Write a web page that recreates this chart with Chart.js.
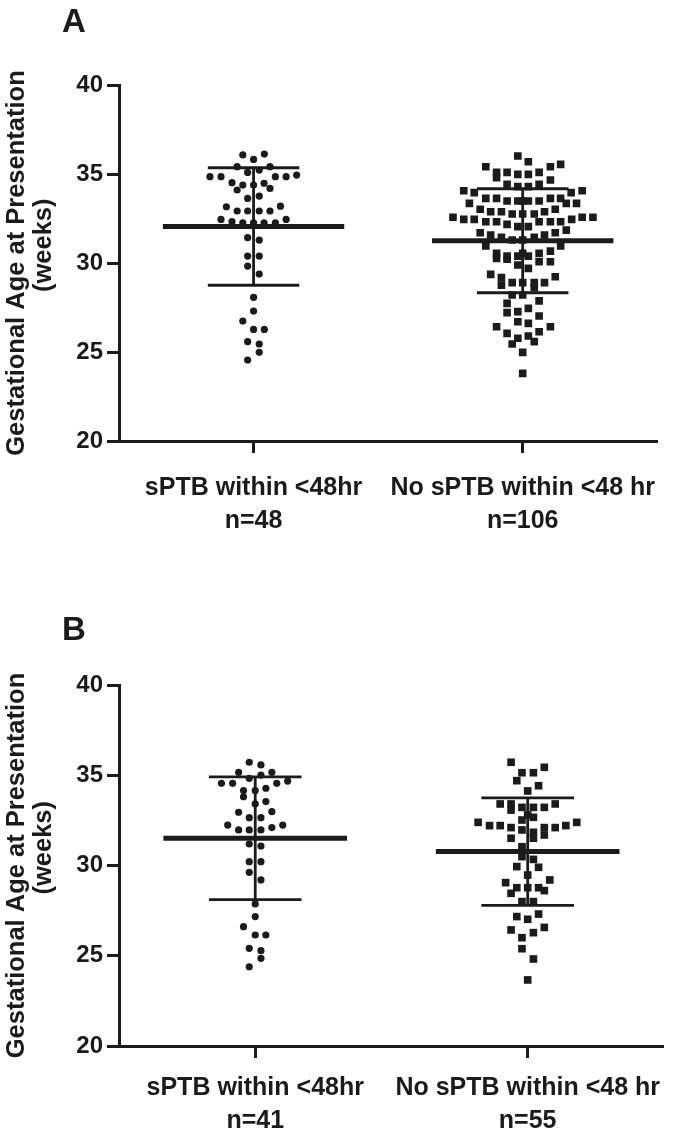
<!DOCTYPE html>
<html><head><meta charset="utf-8">
<script src="https://cdn.jsdelivr.net/npm/chart.js@4.4.1/dist/chart.umd.min.js"></script>
<style>
html,body{margin:0;padding:0;background:#fff;}
#wrap{position:relative;width:676px;height:1139px;overflow:hidden;}
.panel{position:absolute;left:0;width:676px;}
#pa{top:0;height:580px;}
#pb{top:600px;height:539px;}
</style></head><body>
<div id="wrap">
<div class="panel" id="pa"><canvas id="ca"></canvas></div>
<div class="panel" id="pb"><canvas id="cb"></canvas></div>
</div>
<script>
// ---------- data ----------
const categoriesA = [['sPTB within <48hr', 'n=48'], ['No sPTB within <48 hr', 'n=106']];
const categoriesB = [['sPTB within <48hr', 'n=41'], ['No sPTB within <48 hr', 'n=55']];
const yTicks = [20, 25, 30, 35, 40];
const yTitle = ['Gestational Age at Presentation', '\u00a0\u00a0\u00a0\u00a0\u00a0(weeks)'];

// Panel A, group 1 (sPTB within <48hr) : values (weeks) and horizontal scatter offsets (category units)
const valuesA1 = [36.07,35.82,36.12,35.41,35.41,35.09,35.22,34.85,34.85,34.85,34.85,34.94,34.51,34.38,34.38,34.48,34.19,34.10,
  33.63,33.76,33.16,33.19,32.92,32.92,32.92,32.92,32.45,32.45,32.32,32.26,32.26,32.26,32.26,31.42,31.29,30.39,30.39,29.83,29.38,
  28.07,27.30,26.74,26.27,26.27,25.58,25.45,24.98,24.55];
const jitterA1 = [-0.040,0,0.040,-0.061,0.061,-0.022,0.021,-0.162,-0.121,0.081,0.121,0.160,-0.080,-0.040,0,0.039,0.061,-0.061,
  -0.022,0.021,-0.101,0.100,-0.061,-0.022,0.021,0.061,-0.121,0.121,-0.080,-0.040,0,0.039,0.081,-0.022,0.021,-0.022,0.021,-0.022,0.021,
  0,0,-0.040,0,0.040,-0.022,0.021,0.021,-0.022];

// Panel A, group 2 (No sPTB within <48 hr)
const valuesA2 = [36.01,35.69,35.54,35.41,35.41,35.09,35.09,34.98,34.98,35.09,34.79,34.66,34.42,34.29,34.29,34.42,
  34.06,33.95,33.95,34.06,33.63,33.63,33.48,33.48,33.48,33.48,33.48,33.63,33.63,33.35,33.35,33.35,
  33.02,32.88,32.88,32.75,32.75,32.75,32.88,33.02,32.57,32.45,32.45,32.32,32.32,32.17,32.04,32.04,32.32,32.32,32.32,32.45,32.57,32.57,
  31.85,31.70,31.57,31.44,31.29,31.29,31.44,31.57,31.70,30.96,30.96,30.54,30.26,30.39,30.21,30.39,30.39,30.54,30.07,30.67,30.07,
  29.89,29.70,29.36,29.23,29.18,28.76,28.90,28.90,28.90,28.61,28.90,28.20,28.20,27.87,27.73,27.45,27.21,27.27,27.02,
  26.70,26.61,26.42,26.42,26.14,26.05,25.90,25.77,25.58,25.45,24.98,23.80,30.54];
const jitterA2 = [-0.018,0.021,0.141,0.103,-0.137,-0.097,-0.058,-0.018,0.021,0.061,-0.097,0.103,-0.058,-0.018,0.021,0.061,
  -0.219,-0.180,0.180,0.221,-0.137,-0.097,-0.058,-0.018,0,0.021,0.061,0.103,0.141,-0.198,0.162,0.200,
  -0.158,-0.119,-0.079,-0.039,0,0.043,0.081,0.121,-0.259,-0.219,-0.180,-0.137,-0.097,-0.058,-0.018,0.021,0.061,0.103,0.141,0.182,0.221,0.261,
  0.162,-0.158,-0.119,-0.079,-0.039,0,0.043,0.081,0.121,-0.137,0.141,-0.097,-0.097,-0.058,-0.058,-0.018,0.021,0.061,0.061,0.103,0.103,
  -0.018,0.021,-0.119,0.121,-0.079,-0.079,-0.039,0,0.043,0.043,0.081,-0.039,0,0.061,-0.058,0.021,-0.058,-0.018,0.061,
  -0.018,0.021,-0.097,0.103,0.061,-0.058,0.021,-0.018,0.043,-0.039,0,0,0];

// Panel B, group 1
const valuesB1 = [35.72,35.57,35.16,35.16,34.83,35.01,34.55,34.55,34.55,34.68,34.15,34.15,34.28,33.81,33.41,33.54,32.95,32.98,
  32.65,32.65,32.24,32.24,31.97,31.97,31.97,32.10,31.19,31.08,30.21,30.21,29.62,29.20,27.87,27.17,26.61,26.15,26.15,25.41,25.28,24.86,24.39];
const jitterB1 = [-0.022,0.021,-0.061,0.061,-0.022,0.021,-0.124,-0.083,0.079,0.119,-0.043,0,0.039,-0.043,0,0.039,-0.061,0.061,
  -0.022,0.021,-0.101,0.101,-0.061,-0.022,0.021,0.061,-0.022,0.021,-0.022,0.021,-0.022,0.021,0,0,-0.043,0,0.039,-0.022,0.021,0.021,-0.022];

// Panel B, group 2
const valuesB2 = [35.72,35.44,35.14,35.14,34.70,34.42,34.13,33.41,33.41,33.07,33.22,33.22,33.22,33.41,32.80,32.67,
  32.39,32.21,32.21,32.10,32.52,31.97,31.84,32.10,31.69,32.10,32.21,32.39,31.51,31.51,31.04,30.49,30.34,29.94,29.90,29.47,29.20,29.05,
  28.77,28.77,28.77,28.61,28.46,28.00,28.00,27.31,27.17,27.02,26.43,26.28,26.57,26.00,25.39,24.82,23.66];
const jitterB2 = [-0.061,0.061,-0.021,0.021,-0.040,0.040,0,-0.101,-0.061,-0.061,-0.021,0.021,0.061,0.101,0,0.021,
  -0.182,-0.140,-0.101,-0.061,-0.021,-0.021,0.021,0.061,0.061,0.101,0.140,0.180,-0.061,0.021,-0.021,-0.021,0.021,-0.040,0.040,0,0.081,-0.081,
  -0.040,0,0.040,0.061,-0.061,-0.021,0.021,0.040,-0.040,0,-0.061,0.021,0.061,-0.021,-0.021,0.021,0];

// mean and SD per group
const meansA = [32.05, 31.25];
const sdsA = [3.30, 2.92];
const meansB = [31.51, 30.77];
const sdsB = [3.40, 2.98];

// ---------- styling ----------
const INK = '#1b1b1b';
const FONT = "'Liberation Sans', Arial, Helvetica, sans-serif";
Chart.defaults.font.family = FONT;
Chart.defaults.color = INK;

const MEAN_HALF = 0.337, SD_HALF = 0.170;

const letterPlugin = {
  id: 'panelLetter',
  afterDraw(chart, args, opts) {
    const ctx = chart.ctx;
    ctx.save();
    ctx.font = 'bold 33px ' + FONT;
    ctx.fillStyle = INK;
    ctx.textBaseline = 'alphabetic';
    ctx.textAlign = 'left';
    ctx.fillText(opts.text, 62, opts.baseline);
    ctx.restore();
  }
};

function pts(values, jitter, center) {
  return values.map((v, i) => ({ x: center + jitter[i], y: v }));
}
function lineDs(data, width) {
  return { type: 'line', data, showLine: true, borderColor: INK, borderWidth: width,
           pointRadius: 0, pointHoverRadius: 0, borderCapStyle: 'butt', fill: false, order: 0 };
}

function makePanel(canvasId, letter, letterBase, cats, g1, j1, g2, j2, means, sds, bottomPx, labelPad) {
  const datasets = [
    { data: pts(g1, j1, 1), pointStyle: 'circle', pointRadius: 3.6, backgroundColor: INK, borderColor: INK, borderWidth: 0, order: 1 },
    { data: pts(g2, j2, 2), pointStyle: 'rect', pointRadius: 5.4, backgroundColor: INK, borderColor: INK, borderWidth: 0, order: 1 }
  ];
  [1, 2].forEach((c, k) => {
    const m = means[k], s = sds[k];
    datasets.push(lineDs([{ x: c - MEAN_HALF, y: m }, { x: c + MEAN_HALF, y: m }], 5));
    datasets.push(lineDs([{ x: c - SD_HALF, y: m + s }, { x: c + SD_HALF, y: m + s }], 2.8));
    datasets.push(lineDs([{ x: c - SD_HALF, y: m - s }, { x: c + SD_HALF, y: m - s }], 2.8));
    datasets.push(lineDs([{ x: c, y: m - s }, { x: c, y: m + s }], 2.8));
  });
  const canvas = document.getElementById(canvasId);
  return new Chart(canvas, {
    type: 'scatter',
    data: { datasets },
    plugins: [letterPlugin],
    options: {
      responsive: true, maintainAspectRatio: false, animation: false,
      layout: { padding: { top: 85, right: 8, left: 0, bottom: 0 } },
      plugins: { legend: { display: false }, tooltip: { enabled: false }, panelLetter: { text: letter, baseline: letterBase } },
      scales: {
        x: {
          type: 'linear', min: 0.5, max: 2.5,
          afterBuildTicks: (s) => { s.ticks = cats.map((c, i) => ({ value: i + 1 })); },
          afterFit: (s) => { s.height = bottomPx; },
          ticks: {
            callback: (v) => cats[Math.round(v) - 1],
            font: { size: 25, weight: 'bold', lineHeight: 1.32 },
            color: INK, padding: labelPad, maxRotation: 0, autoSkip: false
          },
          grid: { display: true, drawOnChartArea: false, drawTicks: true, tickLength: 12, tickWidth: 3, tickColor: INK },
          border: { display: true, width: 3, color: INK }
        },
        y: {
          min: 20, max: 40,
          afterBuildTicks: (s) => { s.ticks = yTicks.map(v => ({ value: v })); },
          afterFit: (s) => { s.width = 119; },
          ticks: { font: { size: 24, weight: 'bold' }, color: INK, padding: 4 },
          grid: { display: true, drawOnChartArea: false, drawTicks: true, tickLength: 12, tickWidth: 3, tickColor: INK },
          border: { display: true, width: 3, color: INK },
          title: { display: true, text: yTitle, font: { size: 25.5, weight: 'bold', lineHeight: 1.05 }, color: INK, padding: { top: 4, bottom: 0 } }
        }
      }
    }
  });
}

makePanel('ca', 'A', 32, categoriesA, valuesA1, jitterA1, valuesA2, jitterA2, meansA, sdsA, 580 - 441, 19);
makePanel('cb', 'B', 40, categoriesB, valuesB1, jitterB1, valuesB2, jitterB2, meansB, sdsB, 539 - 446, 14);
</script>
</body></html>
